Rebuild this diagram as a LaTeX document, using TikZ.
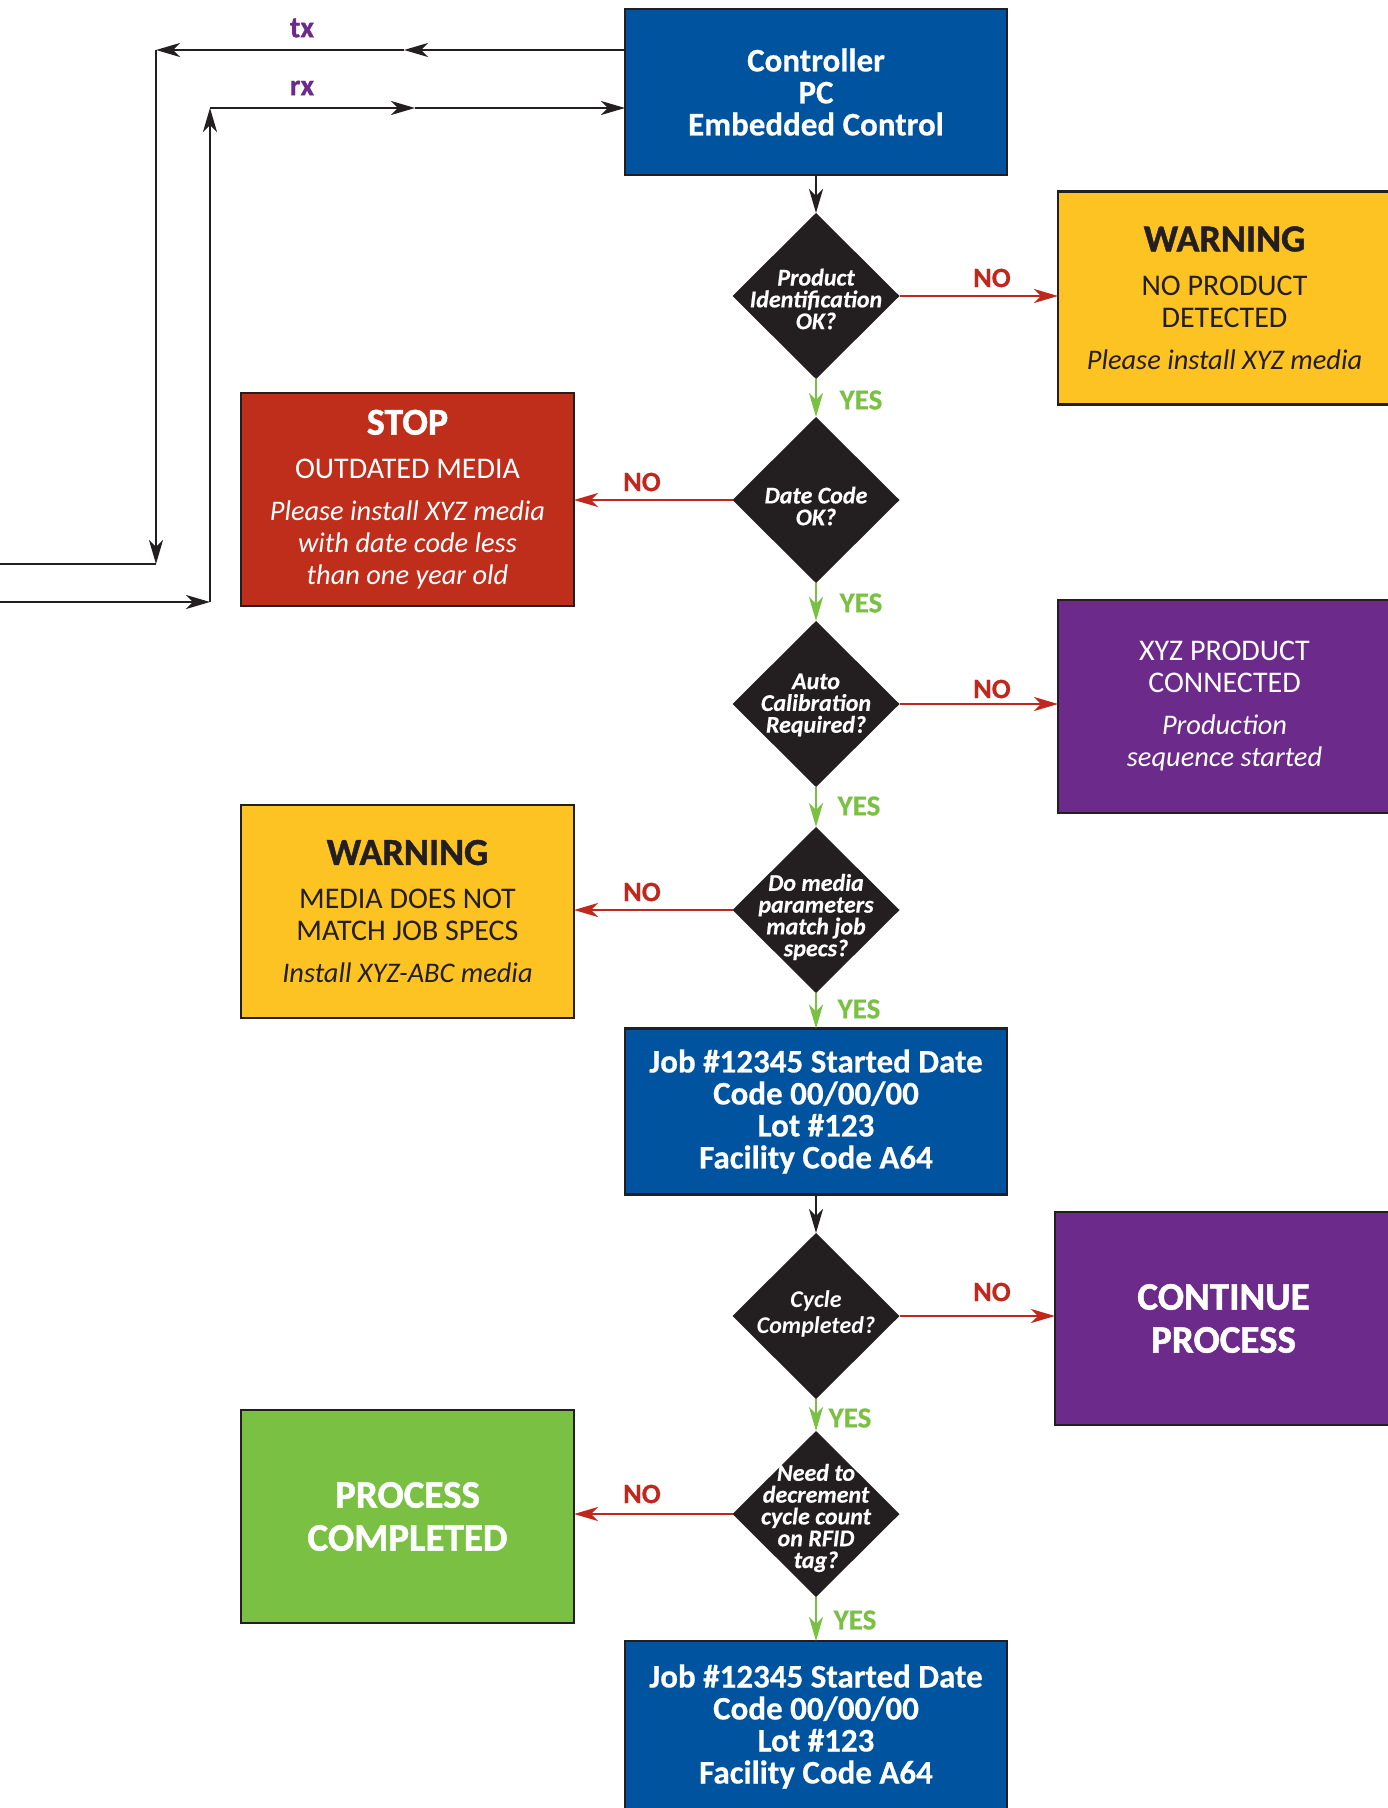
\documentclass[tikz,border=0pt]{standalone}
\usepackage{fontspec}
\setmainfont{Carlito}
\newfontfamily\heavyfam{Carlito}[BoldFeatures={FakeBold=1.2},BoldItalicFeatures={FakeBold=0.6}]
\newfontfamily\semifam{Carlito}[BoldFeatures={FakeBold=0.5},BoldItalicFeatures={FakeBold=0.4}]
\usetikzlibrary{shapes.geometric,arrows.meta,calc}
\definecolor{cblue}{RGB}{0,83,159}
\definecolor{wyel}{RGB}{253,195,35}
\definecolor{sred}{RGB}{190,46,27}
\definecolor{purp}{RGB}{108,42,139}
\definecolor{gbox}{RGB}{122,193,67}
\definecolor{ygreen}{RGB}{122,193,67}
\definecolor{nred}{RGB}{192,40,30}
\definecolor{dark}{RGB}{35,31,32}
\newcommand\hvy{\fontsize{19}{19}\selectfont\heavyfam\bfseries}
\newcommand\itl{\fontsize{14.2}{16}\selectfont\itshape}
\begin{document}
\begin{tikzpicture}[x=0.5pt,y=-0.5pt,
  box/.style={draw=dark, line width=1.2pt, inner sep=0pt, outer sep=0pt, align=center,
    minimum width=166.5pt, minimum height=106.5pt, font=\fontsize{15}{16}\selectfont},
  bluebox/.style={box, fill=cblue, text=white, minimum width=191pt, minimum height=83pt,
    font=\fontsize{16.5}{16}\selectfont\semifam\bfseries},
  bigtxt/.style={font=\fontsize{19.5}{21.5}\selectfont\heavyfam\bfseries},
  dia/.style={diamond, fill=dark, minimum width=83.5pt, minimum height=83pt, inner sep=0pt, outer sep=0pt},
  dtxt/.style={text=white, font=\fontsize{12}{10.9}\selectfont\semifam\bfseries\itshape, align=center, inner sep=0pt},
  arr/.style={-{Stealth[length=12pt,width=7pt,inset=3.5pt]}, line width=1.2pt},
  blk/.style={arr, draw=dark},
  plain/.style={line width=1.2pt, draw=dark},
  yes/.style={arr, draw=ygreen},
  no/.style={arr, draw=nred},
  nolab/.style={text=nred, font=\fontsize{14}{14}\selectfont\semifam\bfseries, inner sep=0pt},
  yeslab/.style={text=ygreen, font=\fontsize{14.5}{14.5}\selectfont\semifam\bfseries, inner sep=0pt},
  txlab/.style={text=purp, font=\fontsize{15}{15}\selectfont\semifam\bfseries, inner sep=0pt}
]
\useasboundingbox (0,0) rectangle (1387,1808);

% boxes
\node[bluebox] (ctrl) at (816,92) {Controller\\PC\\Embedded Control};
\node[box, fill=wyel, text=dark] (warn1) at (1224.5,298) {{\hvy WARNING}\\[6pt]NO PRODUCT\\DETECTED\\[5pt]{\itl Please install XYZ media}};
\node[box, fill=sred, text=white] (stop) at (407.5,499.5) {{\hvy STOP}\\[6pt]OUTDATED MEDIA\\[5pt]{\itl Please install XYZ media}\\{\itl with date code less}\\{\itl than one year old}};
\node[box, fill=purp, text=white] (conn) at (1224.5,706.5) {XYZ PRODUCT\\CONNECTED\\[5pt]{\itl Production}\\{\itl sequence started}};
\node[box, fill=wyel, text=dark] (warn2) at (407.5,911.5) {{\hvy WARNING}\\[6pt]MEDIA DOES NOT\\MATCH JOB SPECS\\[5pt]{\itl Install XYZ-ABC media}};
\node[bluebox] (job1) at (816,1111.5) {Job \#12345 Started Date\\Code 00/00/00\\Lot \#123\\Facility Code A64};
\node[box, fill=purp, text=white, minimum width=168.5pt, bigtxt] (cont) at (1223.5,1318.5) {CONTINUE\\PROCESS};
\node[box, fill=gbox, text=white, bigtxt] (done) at (407.5,1516.5) {PROCESS\\COMPLETED};
\node[bluebox, minimum height=85.5pt] (job2) at (816,1726.5) {Job \#12345 Started Date\\Code 00/00/00\\Lot \#123\\Facility Code A64};

% diamonds
\node[dia] (d1) at (816,296) {};
\node[dtxt] (d1t) at (816,299) {Product\\Identification\\OK?};
\node[dia] (d2) at (816,500) {};
\node[dtxt] (d2t) at (816,506) {Date Code\\OK?};
\node[dia] (d3) at (816,704) {};
\node[dtxt] (d3t) at (816,705) {Auto\\Calibration\\Required?};
\node[dia] (d4) at (816,910) {};
\node[dtxt] (d4t) at (816,917) {Do media\\parameters\\match job\\specs?};
\node[dia] (d5) at (816,1316) {};
\node[dtxt, font=\fontsize{12}{12.7}\selectfont\bfseries\itshape] (d5t) at (816,1314) {Cycle\\Completed?};
\node[dia] (d6) at (816,1514) {};
\node[dtxt] (d6t) at (816,1518) {Need to\\decrement\\cycle count\\on RFID\\tag?};

% main connectors
\draw[blk] (ctrl.south) -- (d1.north);
\draw[yes] (d1.south) -- (d2.north);
\draw[yes] (d2.south) -- (d3.north);
\draw[yes] (d3.south) -- (d4.north);
\draw[yes] (d4.south) -- (job1.north);
\draw[blk] (job1.south) -- (d5.north);
\draw[yes] (d5.south) -- (d6.north);
\draw[yes] (d6.south) -- (job2.north);
\draw[no] (d1.east) -- (d1.east -| warn1.west);
\draw[no] (d2.west) -- (d2.west -| stop.east);
\draw[no] (d3.east) -- (d3.east -| conn.west);
\draw[no] (d4.west) -- (d4.west -| warn2.east);
\draw[no] (d5.east) -- (d5.east -| cont.west);
\draw[no] (d6.west) -- (d6.west -| done.east);

% labels
\node[nolab] (n1) at (992,278) {NO};
\node[yeslab] (y1) at (861,400) {YES};
\node[nolab] (n2) at (642,482) {NO};
\node[yeslab] (y2) at (861,603) {YES};
\node[nolab] (n3) at (992,689) {NO};
\node[yeslab] (y3) at (859,806) {YES};
\node[nolab] (n4) at (642,892) {NO};
\node[yeslab] (y4) at (859,1009) {YES};
\node[nolab] (n5) at (992,1292) {NO};
\node[yeslab] (y5) at (850,1418) {YES};
\node[nolab] (n6) at (642,1494) {NO};
\node[yeslab] (y6) at (855,1620) {YES};

% tx / rx
\coordinate (txs) at ($(ctrl.west)+(0,-42)$);
\coordinate (txm) at (404,50);
\coordinate (txc) at (156,50);
\coordinate (txd) at (156,564);
\coordinate (txe) at (-5,564);
\draw[blk] (txs) -- (txm);
\draw[blk] (txm) -- (txc);
\draw[blk] (txc) -- (txd);
\draw[plain] (txd) -- (txe);
\coordinate (rxs) at (-5,602);
\coordinate (rxc) at (210,602);
\coordinate (rxd) at (210,108);
\coordinate (rxm) at (415,108);
\coordinate (rxe) at ($(ctrl.west)+(0,16)$);
\draw[blk] (rxs) -- (rxc);
\draw[blk] (rxc) -- (rxd);
\draw[blk] (rxd) -- (rxm);
\draw[blk] (rxm) -- (rxe);
\node[txlab] (txl) at (302,28) {tx};
\node[txlab] (rxl) at (302,88) {rx};
\end{tikzpicture}
\end{document}
